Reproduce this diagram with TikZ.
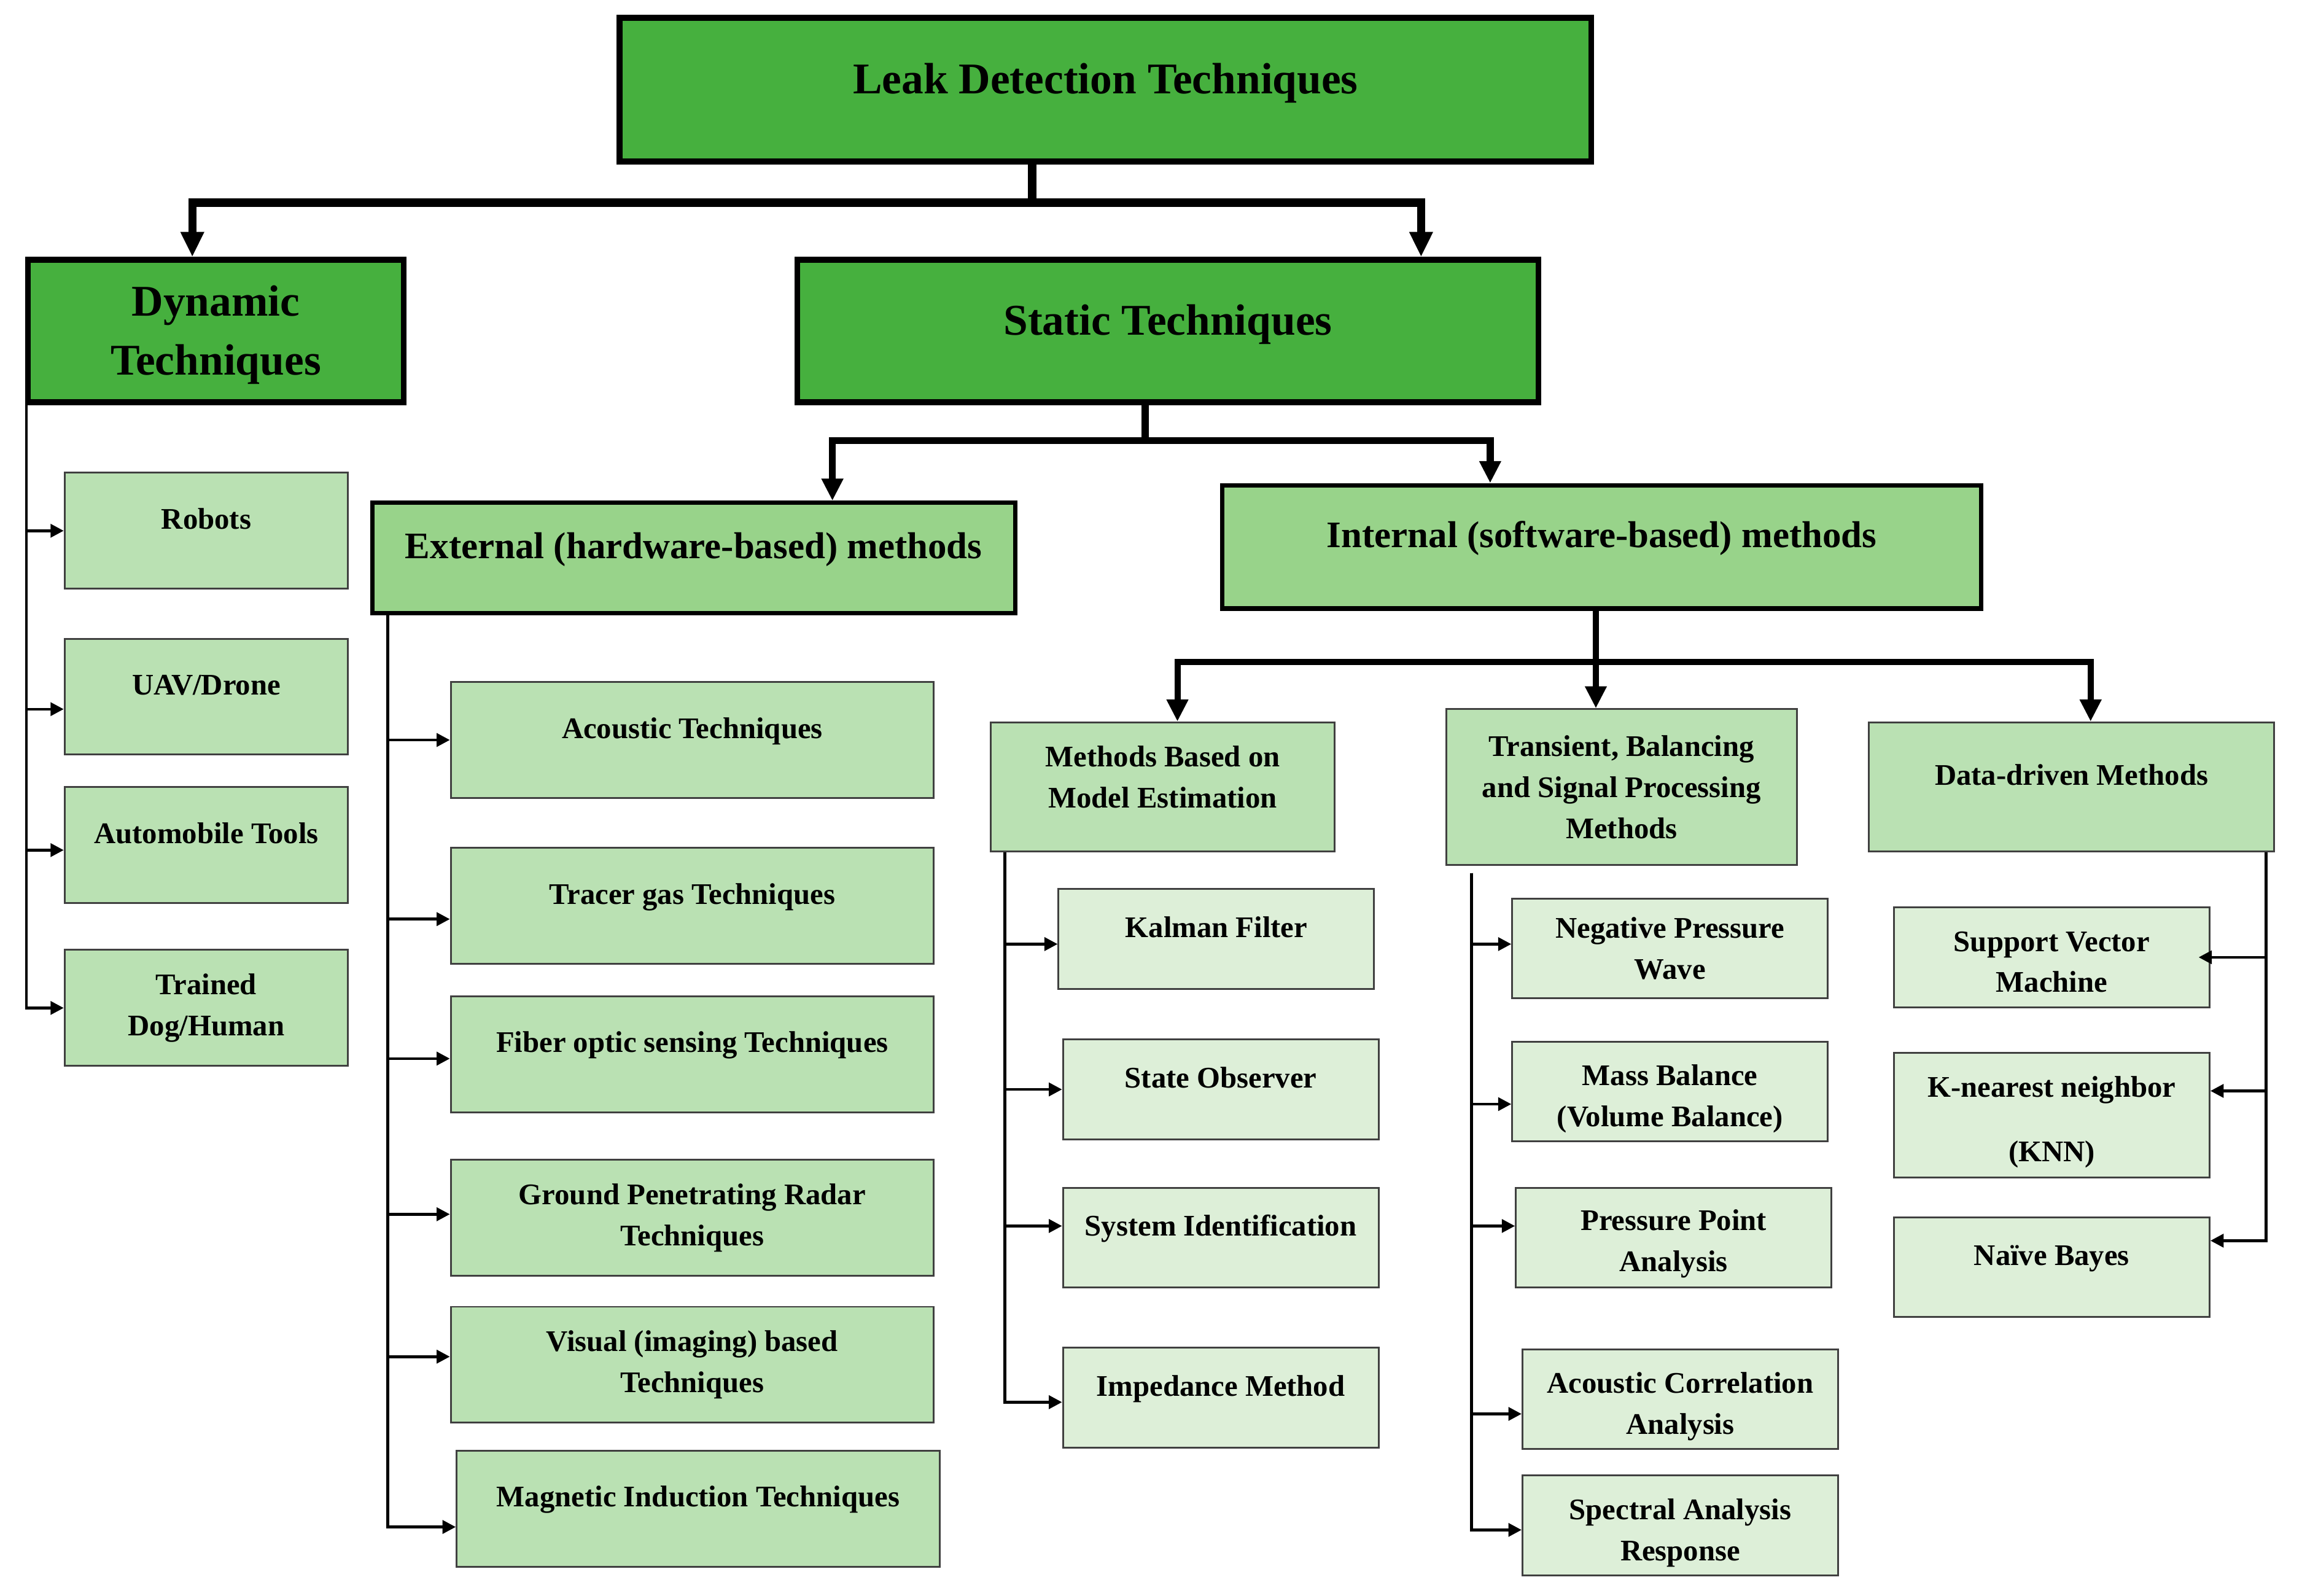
\documentclass[tikz,border=0pt]{standalone}
\usepackage{fontspec}
\setmainfont{Liberation Serif}
\usetikzlibrary{arrows.meta}

\definecolor{darkleaf}{RGB}{70,176,62}
\definecolor{midleaf}{RGB}{152,211,138}
\definecolor{lightleaf}{RGB}{186,225,179}
\definecolor{paleleaf}{RGB}{221,239,216}

\begin{document}
\begin{tikzpicture}[
        x=0.02cm, y=-0.02cm,
        topbox/.style={
            rectangle,
            draw,
            line width=2.3pt,
            fill=darkleaf,
            inner sep=0pt,
            align=center,
            font=\fontsize{17}{22.8}\selectfont\bfseries,
        },
        headline/.style={text height=0.45cm, text depth=0.34cm},
        methodbox/.style={
            rectangle,
            draw,
            line width=1.7pt,
            fill=midleaf,
            inner sep=0pt,
            text height=0.4cm,
            text depth=0.38cm,
            font=\fontsize{14.5}{19}\selectfont\bfseries,
        },
        groupbox/.style={
            rectangle,
            draw=black!75,
            line width=0.7pt,
            fill=lightleaf,
            inner sep=0pt,
            align=center,
            font=\fontsize{11.6}{15.9}\selectfont\bfseries,
        },
        leafbox/.style={groupbox, fill=paleleaf},
        oneline/.style={text height=0.3cm, text depth=0.35cm},
        dynbox/.style={groupbox, minimum width=3.86cm, minimum height=1.58cm},
        extbox/.style={groupbox, minimum width=6.58cm, minimum height=1.58cm},
        smallbox/.style={leafbox, minimum width=4.3cm, minimum height=1.36cm},
        bigarrow/.style={line width=3.2pt, -{Triangle[length=0.34cm, width=0.3cm]}},
        midarrow/.style={line width=2.7pt, -{Triangle[length=0.3cm, width=0.28cm]}},
        lowarrow/.style={line width=2.4pt, -{Triangle[length=0.3cm, width=0.28cm]}},
        twig/.style={line width=1.1pt, -{Triangle[length=0.18cm, width=0.18cm]}},
    ]

    \useasboundingbox (0,0) rectangle (1568,1087);

    \node (title) at (753,61) [topbox, headline, minimum width=13.24cm, minimum height=1.96cm] {Leak Detection Techniques};
    \node (dyn) at (147,225.5) [topbox, minimum width=5.12cm, minimum height=1.94cm] {\rule{0pt}{0.52cm}Dynamic\\Techniques};
    \node (stat) at (795.5,225.5) [topbox, headline, minimum width=10.1cm, minimum height=1.94cm] {Static Techniques};

    \node (ext) at (472.5,380) [methodbox, minimum width=8.76cm, minimum height=1.5cm] {External (hardware-based) methods};
    \node (int) at (1091,372.5) [methodbox, minimum width=10.34cm, minimum height=1.68cm] {Internal (software-based) methods};

    \node (mbe) at (792,536) [groupbox, minimum width=4.68cm, minimum height=1.76cm] {Methods Based on\\Model Estimation\rule[-0.28cm]{0pt}{0.28cm}};
    \node (tbs) at (1104.5,536) [groupbox, minimum width=4.78cm, minimum height=2.12cm] {Transient, Balancing\\and Signal Processing\\Methods};
    \node (ddm) at (1411,536) [groupbox, oneline, minimum width=5.52cm, minimum height=1.76cm] {Data-driven Methods};

    \node (robots) at (140.5,361.5) [dynbox, oneline] {Robots};
    \node (uav) at (140.5,474.5) [dynbox, oneline] {UAV/Drone};
    \node (auto) at (140.5,575.5) [dynbox, oneline] {Automobile Tools};
    \node (dog) at (140.5,686.5) [dynbox] {Trained\\Dog/Human};

    \node (acou) at (471.5,504) [extbox, oneline] {Acoustic Techniques};
    \node (tracer) at (471.5,617) [extbox, oneline] {Tracer gas Techniques};
    \node (fiber) at (471.5,718) [extbox, oneline] {Fiber optic sensing Techniques};
    \node (gpr) at (471.5,829.5) [extbox] {Ground Penetrating Radar\\Techniques};
    \node (visual) at (471.5,929.5) [extbox] {Visual (imaging) based\\Techniques};
    \node (magnet) at (475.5,1027.5) [extbox, oneline] {Magnetic Induction Techniques};

    \node (kalman) at (828.5,639.5) [smallbox, oneline] {Kalman Filter};
    \node (observer) at (831.5,742) [smallbox, oneline] {State Observer};
    \node (sysid) at (831.5,843) [smallbox, oneline] {System Identification};
    \node (imped) at (831.5,952) [smallbox, oneline] {Impedance Method};

    \node (npw) at (1137.5,646) [smallbox] {Negative Pressure\\Wave};
    \node (mass) at (1137.5,743.5) [smallbox] {\rule{0pt}{0.48cm}Mass Balance\\(Volume Balance)};
    \node (ppa) at (1140,843) [smallbox] {\rule{0pt}{0.44cm}Pressure Point\\Analysis};
    \node (aca) at (1144.5,953) [smallbox] {\rule{0pt}{0.48cm}Acoustic Correlation\\Analysis};
    \node (spec) at (1144.5,1039) [smallbox] {\rule{0pt}{0.48cm}Spectral Analysis\\Response};

    \node (svm) at (1397.5,652) [smallbox] {\rule{0pt}{0.4cm}Support Vector\\Machine};
    \node (knn) at (1397.5,759.5) [smallbox, minimum height=1.7cm] {\rule{0pt}{0.48cm}K-nearest neighbor\\[0.32cm](KNN)};
    \node (bayes) at (1397.5,863) [smallbox, oneline] {Naïve Bayes};

    \draw [bigarrow] ([xshift=-1cm]title.south) -- ++(0,26) -| ([xshift=-0.32cm]dyn.north);
    \draw [bigarrow] ([xshift=-1cm]title.south) -- ++(0,26) -| ([xshift=3.45cm]stat.north);

    \draw [midarrow] ([xshift=-0.31cm]stat.south) -- ++(0,24) -| ([xshift=1.89cm]ext.north);
    \draw [midarrow] ([xshift=-0.31cm]stat.south) -- ++(0,24) -| ([xshift=-1.52cm]int.north);

    \draw [lowarrow] ([xshift=-0.08cm]int.south) -- ++(0,35) -| ([xshift=0.2cm]mbe.north);
    \draw [lowarrow] ([xshift=-0.08cm]int.south) -- ++(0,35) -| ([xshift=-0.35cm]tbs.north);
    \draw [lowarrow] ([xshift=-0.08cm]int.south) -- ++(0,35) -| ([xshift=0.26cm]ddm.north);

    \draw [twig] ([xshift=0.02cm]dyn.south west) |- (robots.west);
    \draw [twig] ([xshift=0.02cm]dyn.south west) |- ([yshift=-0.17cm]uav.west);
    \draw [twig] ([xshift=0.02cm]dyn.south west) |- ([yshift=-0.07cm]auto.west);
    \draw [twig] ([xshift=0.02cm]dyn.south west) |- (dog.west);

    \draw [twig] ([xshift=0.24cm]ext.south west) |- (acou.west);
    \draw [twig] ([xshift=0.24cm]ext.south west) |- ([yshift=-0.18cm]tracer.west);
    \draw [twig] ([xshift=0.24cm]ext.south west) |- ([yshift=-0.06cm]fiber.west);
    \draw [twig] ([xshift=0.24cm]ext.south west) |- ([yshift=0.05cm]gpr.west);
    \draw [twig] ([xshift=0.24cm]ext.south west) |- ([yshift=0.11cm]visual.west);
    \draw [twig] ([xshift=0.24cm]ext.south west) |- ([yshift=-0.25cm]magnet.west);

    \draw [twig] ([xshift=0.2cm]mbe.south west) |- ([yshift=-0.07cm]kalman.west);
    \draw [twig] ([xshift=0.2cm]mbe.south west) |- (observer.west);
    \draw [twig] ([xshift=0.2cm]mbe.south west) |- ([yshift=0.16cm]sysid.west);
    \draw [twig] ([xshift=0.2cm]mbe.south west) |- ([yshift=-0.06cm]imped.west);

    \draw [twig] ([xshift=0.36cm,yshift=-0.1cm]tbs.south west) |- ([yshift=0.06cm]npw.west);
    \draw [twig] ([xshift=0.36cm,yshift=-0.1cm]tbs.south west) |- ([yshift=-0.17cm]mass.west);
    \draw [twig] ([xshift=0.36cm,yshift=-0.1cm]tbs.south west) |- ([yshift=0.16cm]ppa.west);
    \draw [twig] ([xshift=0.36cm,yshift=-0.1cm]tbs.south west) |- ([yshift=-0.2cm]aca.west);
    \draw [twig] ([xshift=0.36cm,yshift=-0.1cm]tbs.south west) |- ([yshift=-0.06cm]spec.west);

    \draw [twig] ([xshift=-0.12cm]ddm.south east) |- ([xshift=-0.16cm]svm.east);
    \draw [twig] ([xshift=-0.12cm]ddm.south east) |- ([yshift=0.33cm]knn.east);
    \draw [twig] ([xshift=-0.12cm]ddm.south east) |- ([yshift=0.36cm]bayes.east);

\end{tikzpicture}
\end{document}
